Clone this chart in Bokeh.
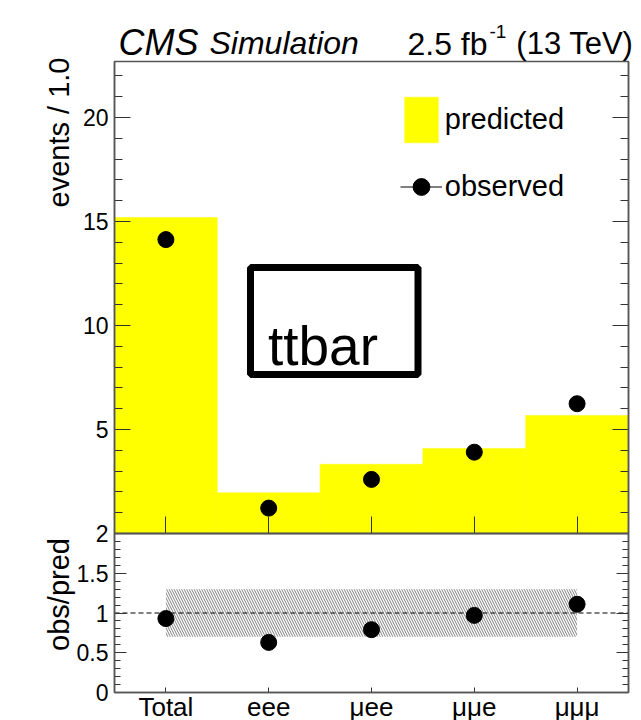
import math
from bokeh.plotting import figure
from bokeh.models import (Range1d, LinearAxis, FixedTicker, BoxAnnotation,
                          Label, Legend, LegendItem)
from bokeh.embed import file_html
from bokeh.resources import INLINE

# ---------------- data ----------------
categories = ["Total", "eee", "μee", "μμe", "μμμ"]
predicted = [15.19, 1.96, 3.33, 4.09, 5.67]
observed = [14.13, 1.22, 2.60, 3.91, 6.24]
ratio = [0.93, 0.63, 0.79, 0.97, 1.11]
band_lo = [0.70, 0.70]
band_hi = [1.30, 1.30]
unity = [1.0, 1.0]
events_ticks = [5, 10, 15, 20]
events_minor = [1, 2, 3, 4, 6, 7, 8, 9, 11, 12, 13, 14, 16, 17, 18, 19, 21, 22]
ratio_ticks = [0, 0.5, 1, 1.5, 2]
ratio_tick_labels = ["0", "0.5", "1", "1.5", "2"]
ratio_minor = [0.1, 0.2, 0.3, 0.4, 0.6, 0.7, 0.8, 0.9, 1.1, 1.2, 1.3, 1.4,
               1.6, 1.7, 1.8, 1.9]

# bin centres on the x scale (one unit-wide bin per category)
NB = len(categories)
centers = [i + 0.5 for i in range(NB)]
band_x = [centers[0], centers[-1]]
edges_x = [0, NB]

# ---------------- layout (pixels) ----------------
W, H = 641, 720
FL, FR, FT, FB = 114, 628, 61, 692      # panel frame edges
SPLIT = 533                             # boundary between the two panels
BW = (FR - FL) / NB                     # px per bin
TOP_PPU = 20.8                          # px per event unit
RAT_PPU = (FB - SPLIT) / 2.0            # px per ratio unit

x_range = Range1d(-FL / BW, NB + (W - FR) / BW)
top_range = Range1d(-(H - SPLIT) / TOP_PPU, SPLIT / TOP_PPU)
ratio_range = Range1d(-(H - FB) / RAT_PPU, FB / RAT_PPU)
TOP_MAX = (SPLIT - FT) / TOP_PPU

def xd(px):
    return (px - FL) / BW

def yd(py):
    return (SPLIT - py) / TOP_PPU

FONT = "Liberation Sans"
YELLOW = "#ffff00"
EDGE = "#555555"
TICK = "#333333"

p = figure(width=W, height=H, x_range=x_range, y_range=top_range,
           x_axis_location=None, y_axis_location=None,
           toolbar_location=None, output_backend="svg",
           min_border_left=0, min_border_right=0, min_border_top=0, min_border_bottom=0,
           outline_line_color=None,
           background_fill_color="white", border_fill_color="white")
p.extra_y_ranges = {"ratio": ratio_range}
p.grid.visible = False

# ---------------- top panel ----------------
bars = p.vbar(x=centers, top=predicted, bottom=0, width=1,
              fill_color=YELLOW, line_color=YELLOW, line_width=0.5)
pts = p.scatter(x=centers, y=observed, size=16, color="black")
# zero-length error bars (drawn only as the legend key)
err_h = p.segment(x0=centers, y0=observed, x1=centers, y1=observed,
                  line_color="black", line_width=1)
err_v = p.scatter(x=centers, y=observed, marker="dash", angle=math.pi / 2, size=0,
                  line_color="black", line_width=1)

# ---------------- ratio panel ----------------
p.varea(x=band_x, y1=band_lo, y2=band_hi, y_range_name="ratio",
        fill_alpha=0, hatch_pattern="\\", hatch_color="#808080",
        hatch_scale=5, hatch_weight=1)
p.line(x=edges_x, y=unity, y_range_name="ratio",
       line_color="black", line_width=1, line_dash="5 3")
p.scatter(x=centers, y=ratio, y_range_name="ratio", size=16, color="black")

# panel frames
p.add_layout(BoxAnnotation(left=0, right=NB, bottom=0, top=TOP_MAX,
                           fill_alpha=0, line_color=EDGE, line_alpha=1, line_width=1.5))
p.add_layout(BoxAnnotation(left=0, right=NB, bottom=0, top=2, y_range_name="ratio",
                           fill_alpha=0, line_color=EDGE, line_alpha=1, line_width=1.5))

# ---------------- axes ----------------
def yaxis(side, loc, ticks, minor, labels, rng, bound, tin, tmin, show):
    kw = dict(ticker=FixedTicker(ticks=ticks, minor_ticks=minor),
              fixed_location=loc, bounds=(0, bound),
              major_tick_in=tin, major_tick_out=0, minor_tick_in=tmin, minor_tick_out=0,
              major_tick_line_color=TICK, minor_tick_line_color=TICK,
              axis_line_color=EDGE, axis_line_width=1.5,
              major_label_text_font=FONT, major_label_text_font_size="23px",
              major_label_text_color="black", major_label_standoff=6,
              major_label_overrides=dict(zip(ticks, labels if show else [""] * len(ticks))))
    if rng != "default":
        kw["y_range_name"] = rng
    p.add_layout(LinearAxis(**kw), side)

ev_labels = [str(t) for t in events_ticks]
yaxis("left", 0, events_ticks, events_minor, ev_labels, "default", TOP_MAX, 16, 8, True)
yaxis("right", NB, events_ticks, events_minor, ev_labels, "default", TOP_MAX, 16, 8, False)
yaxis("left", 0, ratio_ticks, ratio_minor, ratio_tick_labels, "ratio", 2, 12, 6, True)
yaxis("right", NB, ratio_ticks, ratio_minor, ratio_tick_labels, "ratio", 2, 12, 6, False)

ax_top_below = LinearAxis(
    ticker=FixedTicker(ticks=centers, minor_ticks=[]), fixed_location=0,
    major_tick_in=17, major_tick_out=0, minor_tick_in=0, minor_tick_out=0,
    major_tick_line_color=TICK, axis_line_color=EDGE, axis_line_width=1.5,
    bounds=(0, NB), major_label_overrides=dict(zip(centers, [""] * NB)))
p.add_layout(ax_top_below, "below")

ax_rat_below = LinearAxis(
    y_range_name="ratio", fixed_location=0,
    ticker=FixedTicker(ticks=centers, minor_ticks=[]),
    major_label_overrides=dict(zip(centers, categories)),
    major_tick_in=5, major_tick_out=0, minor_tick_in=0, minor_tick_out=0,
    major_tick_line_color=TICK, axis_line_color=EDGE, axis_line_width=1.5,
    bounds=(0, NB),
    major_label_text_font=FONT, major_label_text_font_size="26px",
    major_label_text_color="black", major_label_standoff=-1)
p.add_layout(ax_rat_below, "below")

# ---------------- legend ----------------
legend = Legend(items=[LegendItem(label="predicted", renderers=[bars]),
                       LegendItem(label="observed", renderers=[pts, err_h, err_v])],
                location=(399.75, H - 214.75),
                glyph_width=42, glyph_height=57, spacing=10, label_standoff=3,
                padding=0, margin=0, border_line_alpha=0, background_fill_alpha=0,
                label_text_font=FONT, label_text_font_size="29px",
                label_text_color="black")
p.add_layout(legend)

# ---------------- texts ----------------
def lab(text, px, py, size, style="normal", align="left", baseline="alphabetic",
        angle=0.0, y_range_name="default", ydata=None):
    p.add_layout(Label(x=xd(px), y=(yd(py) if ydata is None else ydata), text=text,
                       text_font=FONT, text_font_size=size, text_font_style=style,
                       text_align=align, text_baseline=baseline, angle=angle,
                       text_color="black", y_range_name=y_range_name))

lab("CMS", 118, 42, "36px", style="italic")
lab("Simulation", 209, 42, "32px", style="italic")
lab("2.5 fb", 487, 43, "32px", align="right")
lab("-1", 489, 31, "19px")
lab("(13 TeV)", 633, 43, "31px", align="right")
lab("events / 1.0", 58, 57, "29px", align="right", angle=math.pi / 2)
lab("obs/pred", 58, 0, "29px", align="center", angle=math.pi / 2,
    y_range_name="ratio", ydata=(FB - 594) / RAT_PPU)

p.add_layout(BoxAnnotation(left=xd(250), right=xd(417.5), top=yd(267), bottom=yd(374),
                           fill_alpha=0, line_color="black", line_alpha=1, line_width=7))
lab("ttbar", 322.5, 345, "55px", align="center")

open("out.html", "w").write(file_html(p, INLINE))
